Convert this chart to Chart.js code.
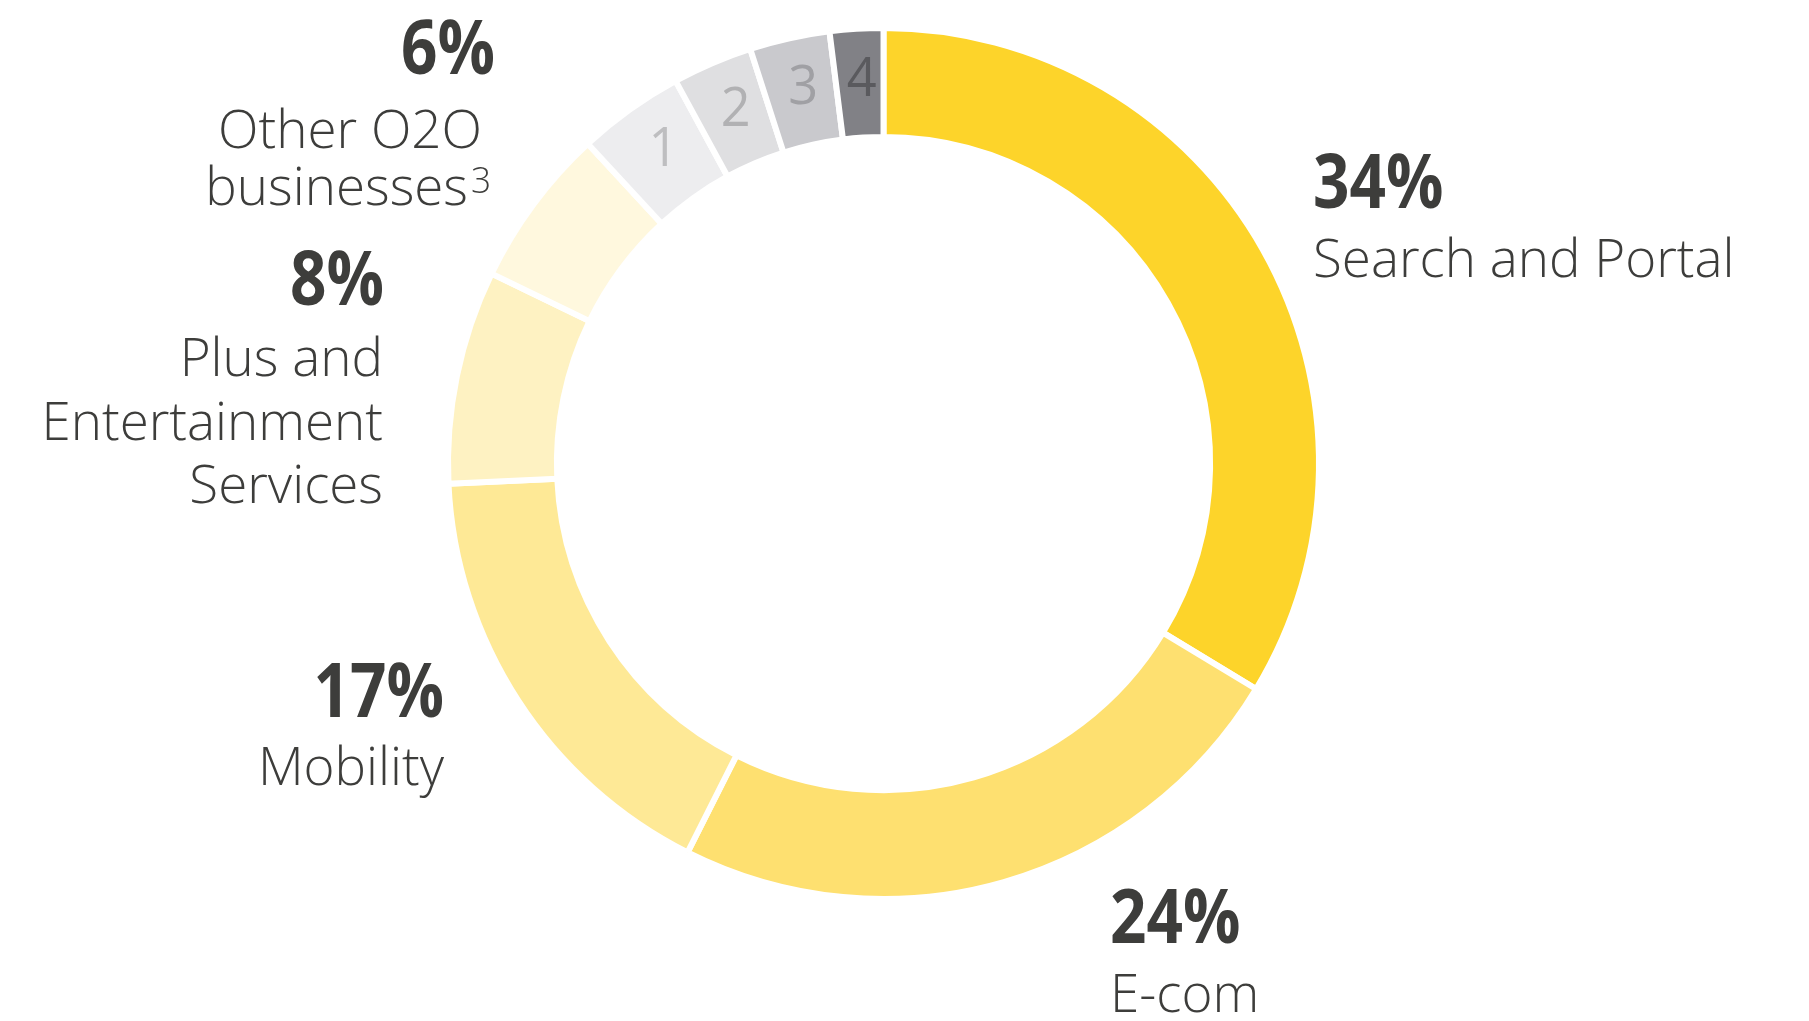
<!DOCTYPE html>
<html>
<head>
<meta charset="utf-8">
<title>Revenue structure</title>
<script src="https://cdn.jsdelivr.net/npm/chart.js@4/dist/chart.umd.min.js"></script>
<style>
    html, body { margin: 0; padding: 0; background: #ffffff; overflow: hidden; }
    #wrap { position: relative; width: 1809px; height: 1021px; }
</style>
</head>
<body>
<div id="wrap"><canvas id="revenue-structure" width="1809" height="1021"></canvas></div>
<script>
// Segments, clockwise from 12 o'clock
var segmentNames = ['Search and Portal', 'E-com', 'Mobility', 'Plus and Entertainment Services', 'Other O2O businesses', '1', '2', '3', '4'];
var segmentShares = [34, 24, 17, 8, 6, 4, 3, 3, 2];
var segmentColors = ['#fdd42a', '#fee070', '#fee996', '#fef2c2', '#fff8de', '#ededef', '#dfdfe1', '#c9c9cd', '#818186'];

// Small grey segments carry a number instead of a caption
var numberLabels = ['', '', '', '', '', '1', '2', '3', '4'];
var numberColors = ['', '', '', '', '', '#bebec0', '#b1b1b3', '#a0a0a4', '#5a5a5e'];

// Captions around the ring: share in bold, then name lines
var captionShares = ['34%', '24%', '17%', '8%', '6%'];
var captionLines = [['Search and Portal'], ['E-com'], ['Mobility'], ['Plus and', 'Entertainment', 'Services'], ['Other O2O', 'businesses']];

var textColor = '#3d3d3b';
var boldFont = '700 76px "Open Sans", sans-serif';
var boldStretch = 0.84;
var textFont = '350 54px "Open Sans", sans-serif';
var textStretch = 0.98;

// Caption anchors: x of the share, baseline of the share, name lines as [x, baseline], align
var captionPlaces = [
    { x: 1313, y: 208, lines: [[1313, 277]], align: 'left' },
    { x: 1110, y: 943, lines: [[1110, 1012]], align: 'left' },
    { x: 444, y: 717, lines: [[444, 785]], align: 'right' },
    { x: 384, y: 305, lines: [[383, 376], [383, 440], [383, 503]], align: 'right' },
    { x: 495, y: 74, lines: [[482, 148], [468, 205]], align: 'right' }
];

// Text squeezed horizontally around its anchor
function drawText(ctx, text, x, y, stretch) {
    ctx.save();
    ctx.translate(x, y);
    ctx.scale(stretch, 1);
    ctx.fillText(text, 0, 0);
    ctx.restore();
}

/**
 * Draw numbers inside the grey arcs and the captions around the ring
 */
var labelPlugin = {
    id: 'segmentLabels',
    afterDraw: function (chart) {
        var ctx = chart.ctx;
        var arcs = chart.getDatasetMeta(0).data;

        ctx.save();
        // Numbers in the arc centres
        ctx.font = '400 55px "Open Sans", sans-serif';
        ctx.textAlign = 'center';
        ctx.textBaseline = 'middle';
        arcs.forEach(function (arc, i) {
            if (!numberLabels[i])
                return;
            var p = arc.tooltipPosition();
            ctx.fillStyle = numberColors[i];
            drawText(ctx, numberLabels[i], p.x + 2, p.y - 3, 0.95);
        });

        // Captions
        ctx.textBaseline = 'alphabetic';
        ctx.fillStyle = textColor;
        captionPlaces.forEach(function (place, i) {
            ctx.textAlign = place.align;
            ctx.font = boldFont;
            drawText(ctx, captionShares[i], place.x, place.y, boldStretch);
            ctx.font = textFont;
            captionLines[i].forEach(function (line, j) {
                drawText(ctx, line, place.lines[j][0], place.lines[j][1], textStretch);
            });
        });

        // Footnote mark after "businesses"
        ctx.textAlign = 'left';
        ctx.font = '350 36px "Open Sans", sans-serif';
        drawText(ctx, '3', 471, 193, textStretch);
        ctx.restore();
    }
};

new Chart(document.getElementById('revenue-structure').getContext('2d'), {
    type: 'doughnut',
    data: {
        labels: segmentNames,
        datasets: [{
            data: segmentShares,
            backgroundColor: segmentColors,
            borderColor: '#ffffff',
            borderWidth: 6,
            hoverOffset: 0
        }]
    },
    options: {
        responsive: false,
        animation: false,
        cutout: '75%',
        layout: {
            padding: { left: 445, top: 25, right: 487, bottom: 119 }
        },
        plugins: {
            legend: { display: false },
            tooltip: { enabled: false }
        }
    },
    plugins: [labelPlugin]
});
</script>
</body>
</html>
